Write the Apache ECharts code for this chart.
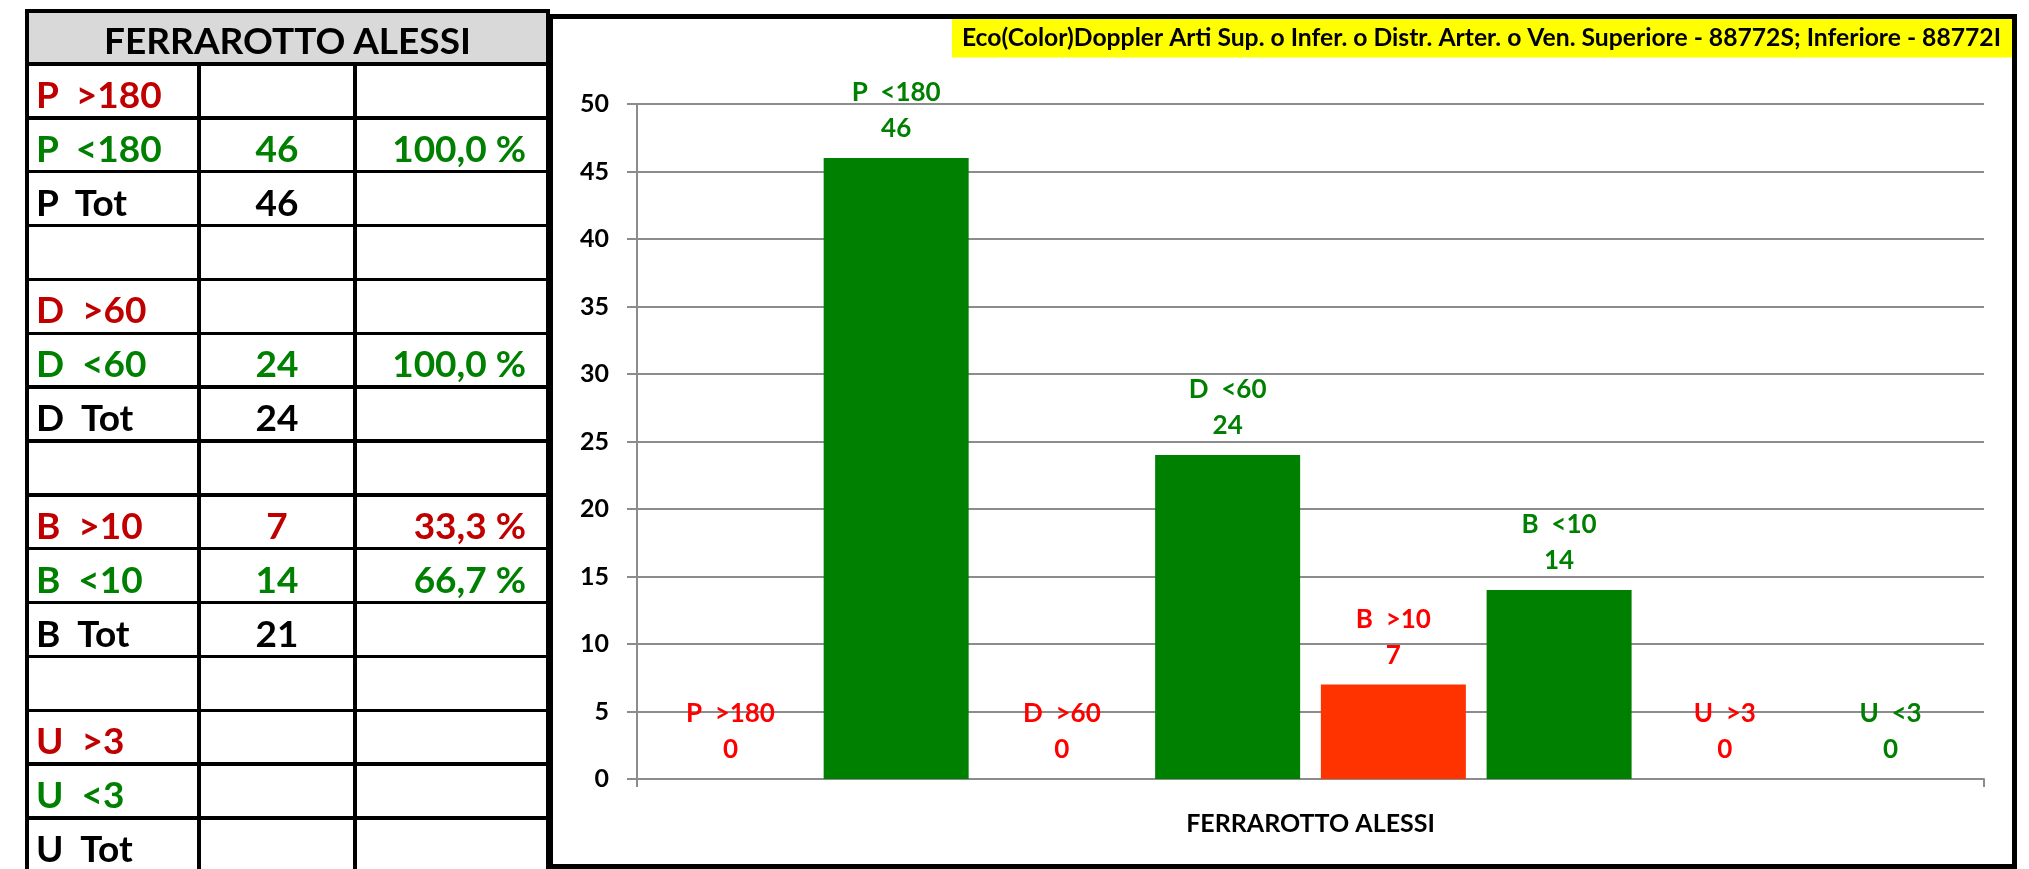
<!DOCTYPE html>
<html><head><meta charset="utf-8">
<script src="https://cdn.jsdelivr.net/npm/echarts@6/dist/echarts.min.js"></script>
<style>
html,body{margin:0;padding:0;width:2029px;height:869px;overflow:hidden;background:#fff;}
#chart{position:absolute;left:0;top:0;width:2029px;height:869px;}
#table{position:absolute;left:0;top:0;width:2029px;height:869px;pointer-events:none;}
.ln{position:absolute;background:#000;}
.bg{position:absolute;background:#D9D9D9;}
.tx{position:absolute;font-family:Lato,'Open Sans',sans-serif;font-weight:bold;font-size:37px;white-space:pre;}
</style></head><body>
<div id="chart"></div>
<div id="table"></div>
<script>
// ---------- data ----------
const tableTitle = 'FERRAROTTO ALESSI';
const rowLabels   = ['P  >180','P  <180','P  Tot','','D  >60','D  <60','D  Tot','','B  >10','B  <10','B  Tot','','U  >3','U  <3','U  Tot'];
const rowCounts   = ['','46','46','','','24','24','','7','14','21','','','',''];
const rowPercents = ['','100,0 %','','','','100,0 %','','','33,3 %','66,7 %','','','','',''];
const rowTones    = ['high','low','total','','high','low','total','','high','low','total','','high','low','total'];

const chartTitle = 'Eco(Color)Doppler Arti Sup. o Infer. o Distr. Arter. o Ven. Superiore - 88772S; Inferiore - 88772I';
const categories = ['FERRAROTTO ALESSI'];
const seriesNames = ['P  >180','P  <180','D  >60','D  <60','B  >10','B  <10','U  >3','U  <3'];
const seriesValues = [0, 46, 0, 24, 7, 14, 0, 0];
const yMin = 0, yMax = 50, yStep = 5;

// ---------- table (HTML) ----------
const toneColor = {high:'#C00000', low:'#008000', total:'#000000', '':'#000000'};
const T = document.getElementById('table');
const colX = [27, 199, 355, 548];
const headTop = 11, headBottom = 64, rowH = 53.86, lw = 3.5;
function div(cls, l, t, w, h, extra) {
  const d = document.createElement('div');
  d.className = cls;
  d.style.left = l + 'px'; d.style.top = t + 'px';
  d.style.width = w + 'px'; d.style.height = h + 'px';
  if (extra) Object.assign(d.style, extra);
  T.appendChild(d); return d;
}
div('bg', colX[0], headTop, colX[3] - colX[0], headBottom - headTop);
const ht = div('tx', colX[0], headTop + 2, colX[3] - colX[0], headBottom - headTop, {lineHeight:(headBottom-headTop)+'px', textAlign:'center', color:'#000'});
ht.textContent = tableTitle;
rowLabels.forEach((lab, i) => {
  const top = headBottom + i * rowH;
  const c = toneColor[rowTones[i]];
  const st = {lineHeight: rowH + 'px', color: c};
  const a = div('tx', 36, top + 3, 160, rowH, st); a.textContent = lab;
  const b = div('tx', colX[1], top + 3, colX[2] - colX[1], rowH, Object.assign({textAlign:'center'}, st)); b.textContent = rowCounts[i];
  const p = div('tx', colX[2], top + 3, 526 - colX[2], rowH, Object.assign({textAlign:'right'}, st)); p.textContent = rowPercents[i];
});
// lines
div('ln', colX[0], headTop - lw/2, colX[3] - colX[0], lw);
for (let i = 0; i <= rowLabels.length; i++) {
  div('ln', colX[0], headBottom + i * rowH - lw/2, colX[3] - colX[0], lw);
}
div('ln', colX[0] - lw/2, headTop - lw/2, lw, 869);
div('ln', colX[3] - lw/2, headTop - lw/2, lw, 869);
div('ln', colX[1] - lw/2, headBottom, lw, 869);
div('ln', colX[2] - lw/2, headBottom, lw, 869);

// ---------- chart ----------
const chart = echarts.init(document.getElementById('chart'), null, {renderer:'canvas'});
const FONT = 'Lato';
const series = seriesNames.map((name, i) => {
  const high = name.indexOf('>') >= 0;
  return {
    name: name, type: 'bar', data: [seriesValues[i]],
    barWidth: 145, barGap: '14.3%',
    itemStyle: {color: high ? '#FF3300' : '#008000'},
    label: {
      show: true, position: 'top', distance: 11,
      formatter: '{a}\n{c}',
      color: high ? '#FF0000' : '#008000',
      fontFamily: FONT, fontWeight: 'bold', fontSize: 26, lineHeight: 36
    }
  };
});
chart.setOption({
  animation: false,
  backgroundColor: '#fff',
  title: {
    text: chartTitle, right: 17, top: 19,
    backgroundColor: '#FFFF00', padding: [7, 11, 7, 10],
    textStyle: {fontFamily: FONT, fontWeight: 'bold', fontSize: 24.7, lineHeight: 24, color: '#000'}
  },
  grid: {left: 637, right: 45, top: 104, bottom: 90, containLabel: false},
  xAxis: {
    type: 'category', data: categories,
    axisLine: {show: true, lineStyle: {color: '#8C8C8C', width: 2}},
    axisTick: {show: true, length: 8, lineStyle: {color: '#8C8C8C', width: 2}},
    axisLabel: {margin: 32, fontFamily: FONT, fontWeight: 'bold', fontSize: 25, color: '#000'}
  },
  yAxis: {
    type: 'value', min: yMin, max: yMax, interval: yStep,
    axisLine: {show: true, lineStyle: {color: '#8C8C8C', width: 2}},
    axisTick: {show: true, length: 10, lineStyle: {color: '#8C8C8C', width: 2}},
    splitLine: {show: true, lineStyle: {color: '#8C8C8C', width: 2}},
    axisLabel: {margin: 28, fontFamily: FONT, fontWeight: 'bold', fontSize: 25, color: '#000'}
  },
  graphic: [{
    type: 'rect', z: 100, silent: true,
    shape: {x: 550.5, y: 16.5, width: 1464, height: 850},
    style: {fill: 'none', stroke: '#000', lineWidth: 5}
  }],
  series: series
});
</script>
</body></html>
